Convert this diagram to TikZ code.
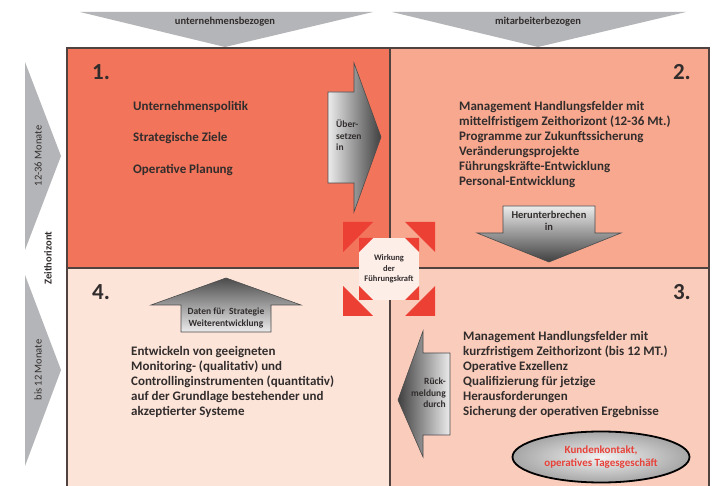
\documentclass[tikz,border=0pt]{standalone}
\usepackage{fontspec}
\setmainfont{Carlito}
\usetikzlibrary{shapes.geometric}
\definecolor{qone}{RGB}{242,116,90}
\definecolor{qtwo}{RGB}{247,168,143}
\definecolor{qthree}{RGB}{250,204,187}
\definecolor{qfour}{RGB}{253,228,217}
\definecolor{framec}{RGB}{80,66,62}
\definecolor{txt}{RGB}{50,45,45}
\definecolor{tri}{RGB}{180,181,184}
\definecolor{redc}{RGB}{236,64,52}
\definecolor{oct}{RGB}{253,238,232}
\definecolor{ellred}{RGB}{232,66,58}
\tikzset{
  body/.style={text=txt, font=\fontsize{13}{15.1}\selectfont\bfseries, align=left, inner sep=0pt, anchor=north west},
  numlbl/.style={text=txt, font=\fontsize{23}{24}\selectfont\bfseries, inner sep=0pt},
  toplbl/.style={text=txt, font=\fontsize{10.5}{12}\selectfont\bfseries, inner sep=0pt},
  sidelbl/.style={text=txt, font=\fontsize{10.5}{12}\selectfont, inner sep=0pt, rotate=90},
  arrtxt/.style={text=txt, font=\fontsize{9.5}{11.5}\selectfont\bfseries, inner sep=0pt},
  garrow/.style={draw=black!70, line width=0.6pt},
  redtri/.style={fill=redc},
}
\begin{document}
\begin{tikzpicture}[x=1pt,y=-1pt]
\clip (0,0) rectangle (715,486);
\fill[white] (0,0) rectangle (715,486);
% top triangles
\fill[tri] (80,12) -- (373,12) -- (225,47) -- cycle;
\fill[tri] (392,12) -- (686,12) -- (538,47) -- cycle;
\node[toplbl] (tl1) at (225,22) {unternehmensbezogen};
\node[toplbl] (tl2) at (538,22) {mitarbeiterbezogen};
% left triangles
\fill[tri] (25,62) -- (25,250) -- (61,156) -- cycle;
\fill[tri] (25,275) -- (25,466) -- (61,370) -- cycle;
\node[sidelbl] (sl1) at (38,156) {12-36 Monate};
\node[sidelbl] (sl2) at (38,370) {bis 12 Monate};
\node[sidelbl, font=\fontsize{10.5}{12}\selectfont\bfseries] (sl3) at (48,258) {Zeithorizont};
% quadrants
\fill[qone] (67,48) rectangle (390,268);
\fill[qtwo] (390,48) rectangle (709,268);
\fill[qfour] (67,268) rectangle (390,500);
\fill[qthree] (390,268) rectangle (709,500);
\draw[framec, line width=1.1pt] (67,48) rectangle (709,500);
\draw[framec, line width=1.1pt] (390,48) -- (390,500) (67,268) -- (709,268);
% numbers
\node[numlbl, anchor=west] (n1) at (92,72) {1.};
\node[numlbl, anchor=east] (n2) at (691,72) {2.};
\node[numlbl, anchor=east] (n3) at (691,292) {3.};
\node[numlbl, anchor=west] (n4) at (92,292) {4.};
% texts
\node[body, font=\fontsize{13}{31.5}\selectfont\bfseries] (t1) at (133,101) {Unternehmenspolitik\\Strategische Ziele\\Operative Planung};
\node[body] (t2) at (459,101) {Management Handlungsfelder mit\\mittelfristigem Zeithorizont (12-36 Mt.)\\Programme zur Zukunftssicherung\\Veränderungsprojekte\\Führungskräfte-Entwicklung\\Personal-Entwicklung};
\node[body] (t3) at (463,331) {Management Handlungsfelder mit\\kurzfristigem Zeithorizont (bis 12 MT.)\\Operative Exzellenz\\Qualifizierung für jetzige\\Herausforderungen\\Sicherung der operativen Ergebnisse};
\node[body] (t4) at (131,346) {Entwickeln von geeigneten\\Monitoring- (qualitativ) und\\Controllinginstrumenten (quantitativ)\\auf der Grundlage bestehender und\\akzeptierter Systeme};
% arrow 1 -> 2
\shade[garrow, left color=gray!15, right color=black!75] (328,92) -- (354,92) -- (354,63) -- (381,137) -- (354,212) -- (354,183) -- (328,183) -- cycle;
\node[arrtxt, align=left, anchor=north west] (a1) at (336,120) {Über-\\setzen\\in};
% arrow 2 -> 3
\shade[garrow, top color=gray!15, bottom color=black!75] (503,206) -- (595,206) -- (595,233) -- (621,233) -- (549,262) -- (477,233) -- (503,233) -- cycle;
\node[arrtxt, align=center, font=\fontsize{10.5}{12}\selectfont\bfseries] (a2) at (549,221) {Herunterbrechen\\in};
% arrow 3 -> 4
\shade[garrow, left color=black!75, right color=gray!15] (450,353) -- (450,435) -- (423,435) -- (423,457) -- (398,400) -- (423,331) -- (423,353) -- cycle;
\node[arrtxt, align=right, anchor=north east] (a3) at (446,378) {Rück-\\meldung\\durch};
% arrow 4 -> 1
\shade[garrow, top color=black!70, bottom color=gray!15] (181,332) -- (271,332) -- (271,305) -- (301,305) -- (226,278) -- (151,305) -- (181,305) -- cycle;
\node[arrtxt, align=center] (a4) at (226,318) {Daten für\ \ Strategie\\Weiterentwicklung};
% centre
\fill[redtri] (343,222) -- (373,222) -- (343,252) -- cycle;
\fill[redtri] (435,222) -- (405,222) -- (435,252) -- cycle;
\fill[redtri] (343,316) -- (373,316) -- (343,286) -- cycle;
\fill[redtri] (435,316) -- (405,316) -- (435,286) -- cycle;
\fill[oct] (359,238) rectangle (419,300);
\fill[redtri] (359,238) -- (373,238) -- (359,252) -- cycle;
\fill[redtri] (419,238) -- (405,238) -- (419,252) -- cycle;
\fill[redtri] (359,300) -- (373,300) -- (359,286) -- cycle;
\fill[redtri] (419,300) -- (405,300) -- (419,286) -- cycle;
\node[text=txt, font=\fontsize{8.5}{10.5}\selectfont\bfseries, align=center, inner sep=0pt] (ctr) at (389,269) {Wirkung\\der\\Führungskraft};
% ellipse
\node[ellipse, draw=black, line width=1.8pt, minimum width=177pt, minimum height=51pt, inner color=gray!10, outer color=gray!70, text=ellred, font=\fontsize{11}{13}\selectfont\bfseries, align=center] (kd) at (601,457) {Kundenkontakt,\\operatives Tagesgeschäft};
\end{tikzpicture}
\end{document}
